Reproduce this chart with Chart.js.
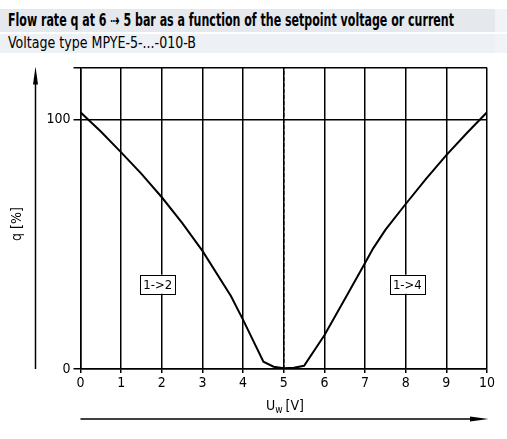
<!DOCTYPE html>
<html>
<head>
<meta charset="utf-8">
<script src="https://cdn.jsdelivr.net/npm/chart.js@4"></script>
<style>
  body { margin: 0; background: #fff; }
  #wrap { position: relative; width: 507px; height: 439px; overflow: hidden; }
  .band { position: absolute; left: 0; width: 507px; color: #000; white-space: nowrap;
          font-family: 'DejaVu Sans Condensed', 'Liberation Sans Narrow', sans-serif; padding-left: 8px; box-sizing: border-box;
          border-right: 12px solid #f1f3f6; }
  .band span { display: inline-block; transform-origin: 0 50%; }
  #title { top: 9px; height: 23px; line-height: 23px; font-size: 17px; font-weight: bold; background: #e5e8ed; }
  #sub { top: 34px; height: 19px; line-height: 19px; font-size: 15.5px; background: #edf0f4; }
  #box { position: absolute; left: 0; top: 56px; width: 507px; height: 383px; }
</style>
</head>
<body>
<div id="wrap">
  <div id="title" class="band"><span data-w="446">Flow rate q at 6 ⇢ 5 bar as a function of the setpoint voltage or current</span></div>
  <div id="sub" class="band"><span data-w="188">Voltage type MPYE-5-...-010-B</span></div>
  <div id="box"><canvas id="c"></canvas></div>
</div>
<script>
// setpoint voltage [V] and flow rate q [%]
const voltage = [0, 0.5, 1, 1.5, 2, 2.5, 3, 3.7, 4, 4.5, 4.75, 5, 5.25, 5.5, 6, 6.5, 7, 7.2, 7.5, 8, 8.5, 9, 9.5, 10];
const flow = [103, 95.3, 86.9, 78.3, 68.9, 58.6, 47.4, 29.3, 19.7, 2.9, 0.9, 0.3, 0.5, 1.3, 13.5, 28, 42.5, 48.4, 55.8, 66.2, 76.3, 85.8, 94.6, 103];
const yTicks = [0, 100];
const yMax = 121;
const labels = [
  { text: '1->2', x: 1.9, y: 34 },
  { text: '1->4', x: 8.04, y: 34 }
];

const FONT = "'DejaVu Sans Condensed', 'Liberation Sans Narrow', sans-serif";

// squeeze header text to the reference width
document.querySelectorAll('.band span').forEach(s => {
  const w = s.getBoundingClientRect().width;
  s.style.transform = 'scaleX(' + (+s.dataset.w / w) + ')';
});

const extras = {
  id: 'extras',
  afterDraw(chart) {
    const ctx = chart.ctx;
    const a = chart.chartArea;
    const xs = chart.scales.x, ys = chart.scales.y;
    ctx.save();
    ctx.strokeStyle = '#000';
    ctx.fillStyle = '#000';
    ctx.lineWidth = 1.5;

    // y arrow
    const ax = 35.5;
    ctx.beginPath();
    ctx.moveTo(ax, a.bottom);
    ctx.lineTo(ax, a.top + 14);
    ctx.stroke();
    ctx.beginPath();
    ctx.moveTo(ax, a.top - 1);
    ctx.lineTo(ax - 2.5, a.top + 17);
    ctx.lineTo(ax + 2.5, a.top + 17);
    ctx.closePath();
    ctx.fill();

    // x arrow
    const ay = 363;
    ctx.beginPath();
    ctx.moveTo(a.left, ay);
    ctx.lineTo(a.right - 14, ay);
    ctx.stroke();
    ctx.beginPath();
    ctx.moveTo(a.right + 1.5, ay);
    ctx.lineTo(a.right - 17, ay - 2.5);
    ctx.lineTo(a.right - 17, ay + 2.5);
    ctx.closePath();
    ctx.fill();

    // axis titles
    ctx.font = '14px ' + FONT;
    ctx.textBaseline = 'middle';
    ctx.save();
    ctx.translate(17, 168);
    ctx.rotate(-Math.PI / 2);
    ctx.textAlign = 'center';
    ctx.fillText('q [%]', 0, 0);
    ctx.restore();

    ctx.textAlign = 'left';
    let tx = 266;
    const ty = 350;
    ctx.fillText('U', tx, ty);
    tx += ctx.measureText('U').width;
    ctx.font = '10px ' + FONT;
    ctx.fillText('w', tx, ty + 4);
    tx += ctx.measureText('w').width + 3;
    ctx.font = '14px ' + FONT;
    ctx.fillText('[V]', tx, ty);

    // curve labels
    ctx.font = '13px ' + FONT;
    ctx.textAlign = 'center';
    labels.forEach(l => {
      const px = xs.getPixelForValue(l.x), py = ys.getPixelForValue(l.y);
      const w = 35, h = 19;
      ctx.fillStyle = '#fff';
      ctx.fillRect(px - w / 2, py - h / 2, w, h);
      ctx.lineWidth = 1;
      ctx.strokeRect(Math.round(px - w / 2) + 0.5, Math.round(py - h / 2) + 0.5, w, h);
      ctx.fillStyle = '#000';
      ctx.fillText(l.text, px, py + 1);
    });
    ctx.restore();
  }
};

new Chart(document.getElementById('c'), {
  type: 'line',
  data: {
    datasets: [
      {
        data: voltage.map((v, i) => ({ x: v, y: flow[i] })),
        borderColor: '#000',
        borderWidth: 2,
        pointRadius: 0,
        tension: 0,
        fill: false
      },
      {
        data: [{ x: 5, y: 0 }, { x: 5, y: yMax }],
        borderColor: '#000',
        borderWidth: 1.5,
        borderDash: [4, 2],
        pointRadius: 0,
        fill: false
      }
    ]
  },
  options: {
    responsive: true,
    maintainAspectRatio: false,
    animation: false,
    layout: { padding: { left: 0, right: 20, top: 7, bottom: 0 } },
    plugins: { legend: { display: false }, tooltip: { enabled: false } },
    scales: {
      x: {
        type: 'linear',
        min: 0,
        max: 10,
        ticks: { stepSize: 1, color: '#000', font: { family: FONT, size: 14 }, padding: 2, maxRotation: 0 },
        grid: { color: '#000', lineWidth: 1.5, tickLength: 4 },
        border: { color: '#000', width: 1.5 },
        afterFit(s) { s.height = 70; }
      },
      y: {
        min: 0,
        max: yMax,
        afterBuildTicks(s) { s.ticks = yTicks.concat([yMax]).map(v => ({ value: v })); },
        ticks: {
          color: '#000',
          font: { family: FONT, size: 14 },
          padding: 3,
          callback: v => (yTicks.includes(v) ? v : '')
        },
        grid: { color: '#000', lineWidth: 1.5, tickLength: 7 },
        border: { color: '#000', width: 1.5 },
        afterFit(s) { s.width = 80.5; }
      }
    }
  },
  plugins: [extras]
});
</script>
</body>
</html>
